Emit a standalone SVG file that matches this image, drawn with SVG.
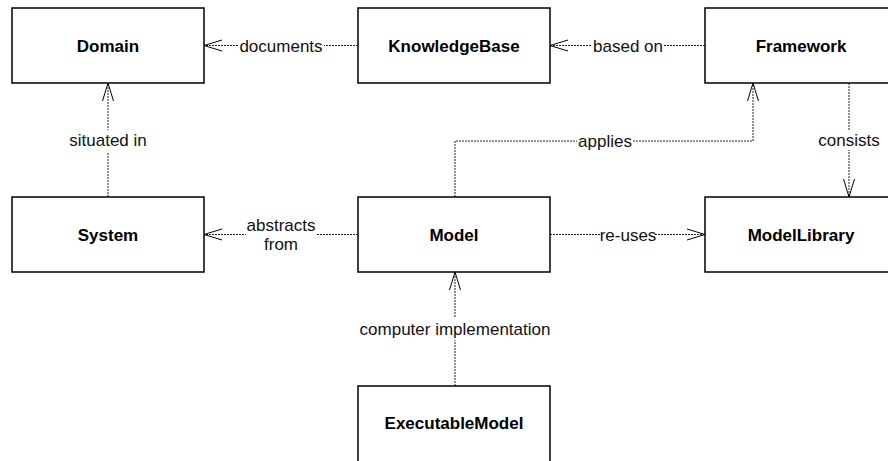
<svg xmlns="http://www.w3.org/2000/svg" width="888" height="461" viewBox="0 0 888 461">
<style>
.box{fill:#fff;stroke:#000;stroke-width:1.5}
.name{font-family:"Liberation Sans",Arial,sans-serif;font-size:17px;font-weight:bold;fill:#000;text-anchor:middle}
.edge{fill:none;stroke:#222;stroke-width:1;stroke-dasharray:2 1}
.lbl{font-family:"Liberation Sans",Arial,sans-serif;font-size:17px;fill:#111;text-anchor:middle}
.bg{fill:#fff}
</style>
<defs>
<marker id="open" markerUnits="userSpaceOnUse" markerWidth="24" markerHeight="16" viewBox="-22 -8 24 16" refX="0" refY="0" orient="auto">
<path d="M-18,-5.5 L0,0 L-18,5.5" fill="none" stroke="#000" stroke-width="1"/>
</marker>
</defs>
<rect width="888" height="461" fill="#fff"/>
<g id="connectors">
<g id="e-documents"><path class="edge" d="M358,45.5 H204" marker-end="url(#open)"/><rect class="bg" x="238" y="35" width="86" height="22"/><text class="lbl" x="281" y="51.5">documents</text></g>
<g id="e-basedon"><path class="edge" d="M705,45.5 H550" marker-end="url(#open)"/><rect class="bg" x="592" y="35" width="72" height="22"/><text class="lbl" x="628" y="51.5">based on</text></g>
<g id="e-situated"><path class="edge" d="M108,197 V83" marker-end="url(#open)"/><rect class="bg" x="66" y="130" width="84" height="22"/><text class="lbl" x="108" y="146">situated in</text></g>
<g id="e-applies"><path class="edge" d="M455,197 V141 H753 V83" marker-end="url(#open)"/><rect class="bg" x="577" y="131" width="56" height="20"/><text class="lbl" x="605" y="147">applies</text></g>
<g id="e-consists"><path class="edge" d="M849,83 V197" marker-end="url(#open)"/><rect class="bg" x="817" y="130" width="64" height="20"/><text class="lbl" x="849" y="146">consists</text></g>
<g id="e-abstracts"><path class="edge" d="M358,234.5 H204" marker-end="url(#open)"/><rect class="bg" x="246" y="212" width="70" height="42"/><text class="lbl" x="281" y="231">abstracts</text><text class="lbl" x="281" y="250">from</text></g>
<g id="e-reuses"><path class="edge" d="M550,234.5 H705" marker-end="url(#open)"/><rect class="bg" x="601" y="224" width="54" height="22"/><text class="lbl" x="628" y="240.5">re-uses</text></g>
<g id="e-implementation"><path class="edge" d="M455,386 V272" marker-end="url(#open)"/><rect class="bg" x="358" y="318" width="194" height="22"/><text class="lbl" x="455" y="335">computer implementation</text></g>
</g>
<g id="Domain"><rect class="box" x="12" y="8" width="192" height="75"/><text class="name" x="108" y="51.5">Domain</text></g>
<g id="KnowledgeBase"><rect class="box" x="358" y="8" width="192" height="75"/><text class="name" x="454" y="51.5">KnowledgeBase</text></g>
<g id="Framework"><rect class="box" x="705" y="8" width="192" height="75"/><text class="name" x="801" y="51.5">Framework</text></g>
<g id="System"><rect class="box" x="12" y="197" width="192" height="75"/><text class="name" x="108" y="240.5">System</text></g>
<g id="Model"><rect class="box" x="358" y="197" width="192" height="75"/><text class="name" x="454" y="240.5">Model</text></g>
<g id="ModelLibrary"><rect class="box" x="705" y="197" width="192" height="75"/><text class="name" x="801" y="240.5">ModelLibrary</text></g>
<g id="ExecutableModel"><rect class="box" x="358" y="386" width="192" height="80"/><text class="name" x="454" y="429">ExecutableModel</text></g>
</svg>
